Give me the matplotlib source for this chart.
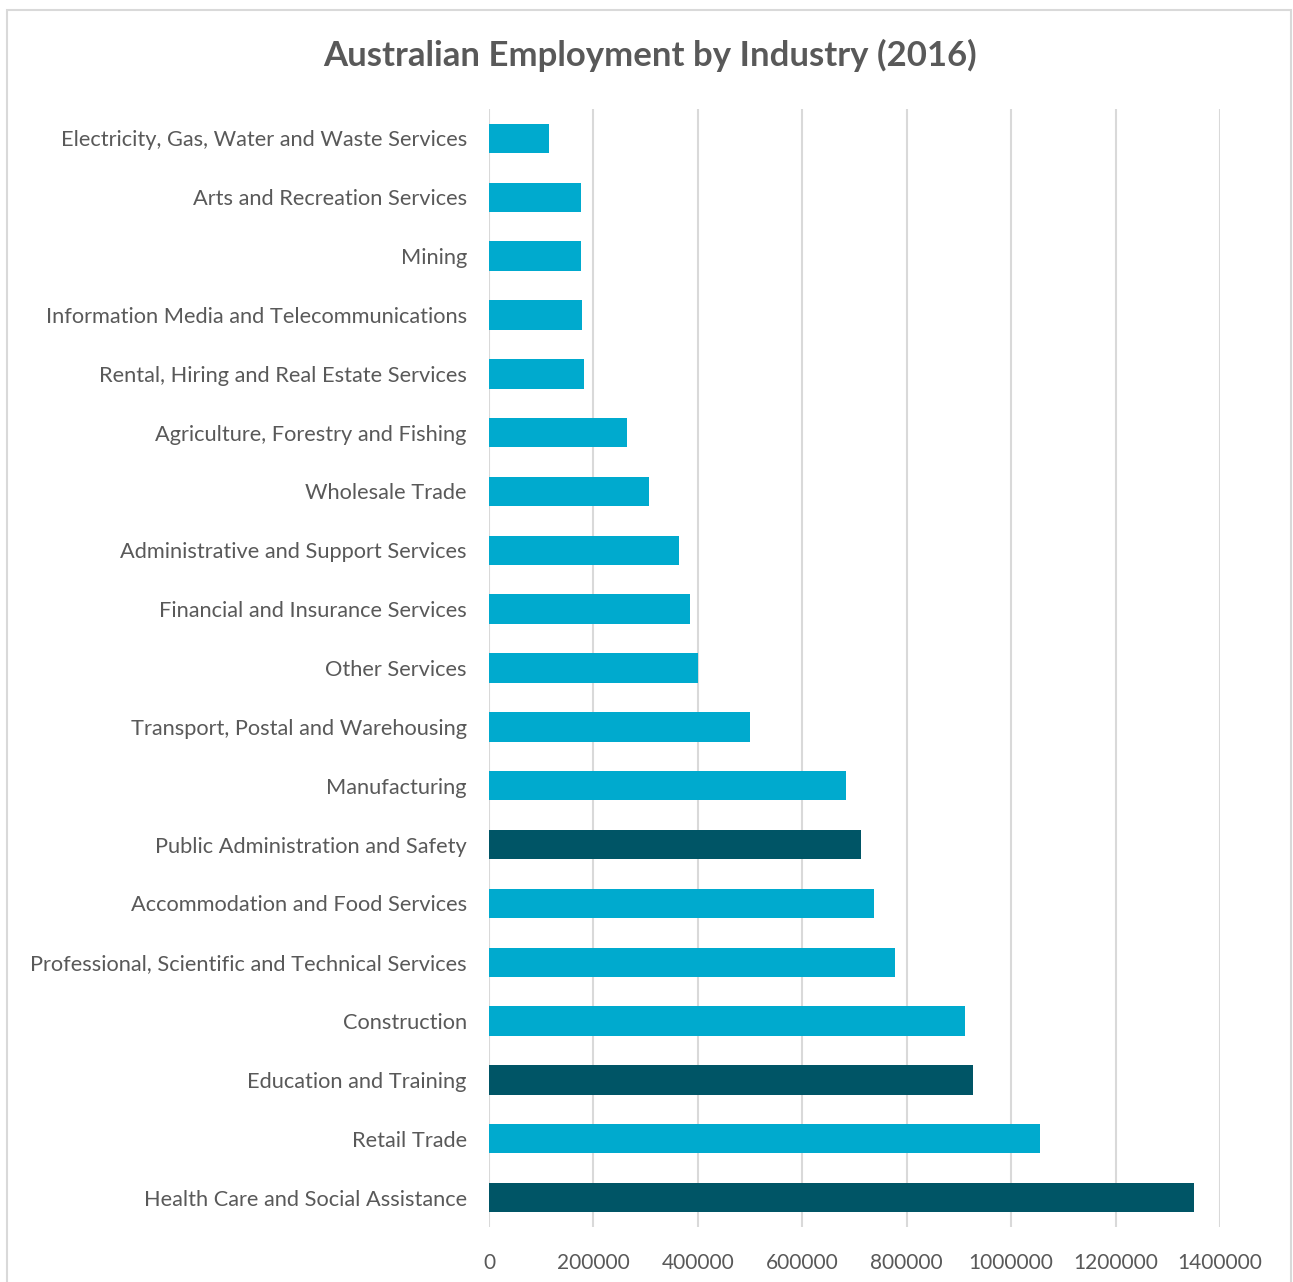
import matplotlib.pyplot as plt
from matplotlib.patches import Rectangle

# Employment by industry, 2016 (persons), smallest first so it plots top-down
industries = [
    "Electricity, Gas, Water and Waste Services",
    "Arts and Recreation Services",
    "Mining",
    "Information Media and Telecommunications",
    "Rental, Hiring and Real Estate Services",
    "Agriculture, Forestry and Fishing",
    "Wholesale Trade",
    "Administrative and Support Services",
    "Financial and Insurance Services",
    "Other Services",
    "Transport, Postal and Warehousing",
    "Manufacturing",
    "Public Administration and Safety",
    "Accommodation and Food Services",
    "Professional, Scientific and Technical Services",
    "Construction",
    "Education and Training",
    "Retail Trade",
    "Health Care and Social Assistance",
]
employed = [
    114000, 176000, 177000, 179000, 182000, 265000, 307000, 364000, 384000,
    400000, 499000, 683000, 713000, 738000, 777000, 911000, 927000, 1055000,
    1350000,
]
highlight = ["Public Administration and Safety", "Education and Training",
             "Health Care and Social Assistance"]
xticks = [0, 200000, 400000, 600000, 800000, 1000000, 1200000, 1400000]

light = "#00AACE"
dark = "#005566"
grey_text = "#595959"
grid_col = "#D9D9D9"

plt.rcParams['font.family'] = ['Lato', 'DejaVu Sans']

fig = plt.figure(figsize=(12.93, 12.82), dpi=100)
fig.patches.append(Rectangle((7 / 1293, -0.01), 1284 / 1293, 1 - 10 / 1282 + 0.01,
                             transform=fig.transFigure, fill=False,
                             edgecolor=grid_col, linewidth=1.5))

ax = fig.add_axes([489 / 1293, 55 / 1282, 731 / 1293, 1118 / 1282])

n = len(industries)
ypos = [n - 1 - i for i in range(n)]
colors = [dark if name in highlight else light for name in industries]
ax.barh(ypos, employed, height=0.5, color=colors, zorder=3)

ax.set_xlim(0, 1400000)
ax.set_ylim(-0.5, n - 0.5)
ax.set_yticks(ypos)
ax.set_yticklabels(industries)
ax.set_xticks(xticks)
ax.set_xticklabels([str(t) for t in xticks])

ax.grid(axis='x', color=grid_col, linewidth=1.5, zorder=0)
for s in ax.spines.values():
    s.set_visible(False)
ax.tick_params(axis='both', length=0, labelcolor=grey_text)
ax.tick_params(axis='y', pad=16, labelsize=15.7)
ax.tick_params(axis='x', pad=19, labelsize=15)

fig.text(650 / 1293, 1 - 55 / 1282, "Australian Employment by Industry (2016)",
         ha='center', va='center', fontsize=25, fontweight='bold', color=grey_text)

fig.savefig("out.png", dpi=100, facecolor='white')
